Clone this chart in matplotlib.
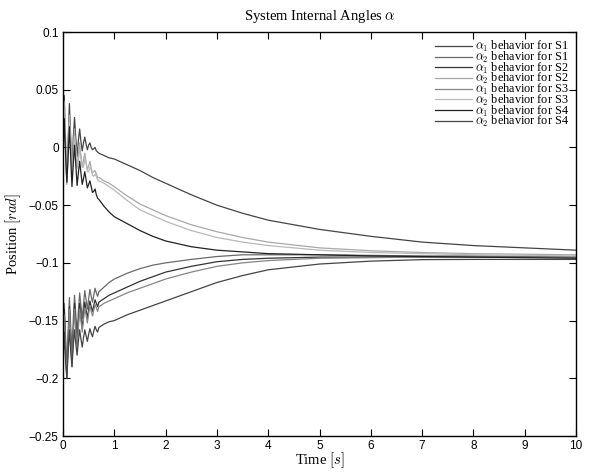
import numpy as np
import matplotlib as mpl
mpl.use('Agg')
import matplotlib.pyplot as plt

# time samples: dense at start (oscillation), sparse in the tail
t_head = [0.0, 0.025, 0.05, 0.075, 0.1, 0.125, 0.15, 0.175, 0.2, 0.225,
          0.25, 0.275, 0.3, 0.325, 0.35, 0.375, 0.4, 0.425, 0.45, 0.475,
          0.5, 0.525, 0.55, 0.575, 0.6, 0.625, 0.65, 0.675, 0.7]
t_tail = [0.8, 0.9, 1.0, 1.25, 1.5, 1.75, 2.0, 2.5, 3.0, 3.5, 4.0, 5.0, 6.0, 7.0, 8.0, 9.0, 10.0]
time = t_head + t_tail

# upper group
a_head = [0.0, 0.045, 0.0, -0.03, 0.005, 0.038, 0.008, -0.025, 0.008, 0.026,
          0.008, -0.008, 0.006, 0.016, 0.005, -0.003, 0.004, 0.009, 0.003, -0.002,
          0.002, 0.004, 0.0, -0.002, -0.001, 0.0, -0.003, -0.004, -0.005]
a_tail = [-0.007, -0.009, -0.010, -0.015, -0.020, -0.026, -0.031, -0.041, -0.050, -0.057,
          -0.063, -0.071, -0.077, -0.082, -0.085, -0.087, -0.089]

b_head = [0.0, 0.04, 0.0, -0.032, 0.0, 0.028, -0.001, -0.024, -0.002, 0.016,
          -0.004, -0.018, -0.006, 0.004, -0.009, -0.017, -0.011, -0.005, -0.013, -0.019,
          -0.016, -0.012, -0.018, -0.022, -0.021, -0.020, -0.023, -0.026, -0.026]
b_tail = [-0.029, -0.031, -0.034, -0.042, -0.049, -0.054, -0.059, -0.067, -0.073, -0.078,
          -0.082, -0.087, -0.0895, -0.091, -0.092, -0.0925, -0.093]

c_head = [-0.005, 0.032, 0.01, -0.025, -0.01, 0.022, 0.005, -0.02, -0.01, 0.010,
          0.0, -0.016, -0.012, -0.002, -0.006, -0.017, -0.017, -0.010, -0.013, -0.021,
          -0.021, -0.017, -0.019, -0.024, -0.025, -0.023, -0.025, -0.028, -0.029]
c_tail = [-0.031, -0.034, -0.037, -0.046, -0.054, -0.059, -0.064, -0.072, -0.078, -0.082,
          -0.085, -0.089, -0.091, -0.092, -0.093, -0.0935, -0.094]

d_head = [-0.01, 0.025, -0.005, -0.03, -0.008, 0.018, -0.008, -0.034, -0.015, 0.002,
          -0.015, -0.033, -0.022, -0.012, -0.022, -0.032, -0.027, -0.021, -0.028, -0.035,
          -0.032, -0.029, -0.034, -0.039, -0.038, -0.036, -0.041, -0.044, -0.045]
d_tail = [-0.051, -0.056, -0.060, -0.066, -0.072, -0.077, -0.081, -0.086, -0.089, -0.0905,
          -0.092, -0.093, -0.094, -0.0945, -0.095, -0.0955, -0.096]

# lower group
e_head = [-0.17, -0.135, -0.165, -0.195, -0.16, -0.13, -0.155, -0.18, -0.15, -0.128,
          -0.145, -0.162, -0.142, -0.126, -0.137, -0.148, -0.136, -0.124, -0.132, -0.14,
          -0.131, -0.123, -0.129, -0.134, -0.128, -0.122, -0.126, -0.129, -0.125]
e_tail = [-0.121, -0.117, -0.114, -0.109, -0.105, -0.102, -0.100, -0.097, -0.0945, -0.093,
          -0.093, -0.093, -0.0935, -0.094, -0.094, -0.0945, -0.095]

f_head = [-0.175, -0.14, -0.17, -0.2, -0.168, -0.138, -0.162, -0.188, -0.16, -0.135,
          -0.153, -0.17, -0.152, -0.135, -0.146, -0.157, -0.145, -0.134, -0.141, -0.148,
          -0.14, -0.133, -0.138, -0.142, -0.137, -0.132, -0.135, -0.138, -0.134]
f_tail = [-0.131, -0.128, -0.126, -0.121, -0.116, -0.112, -0.108, -0.103, -0.099, -0.097,
          -0.096, -0.095, -0.095, -0.095, -0.095, -0.095, -0.095]

g_head = [-0.18, -0.145, -0.175, -0.198, -0.17, -0.14, -0.165, -0.19, -0.163, -0.14,
          -0.157, -0.173, -0.156, -0.14, -0.15, -0.16, -0.149, -0.139, -0.145, -0.152,
          -0.144, -0.137, -0.142, -0.146, -0.141, -0.136, -0.139, -0.142, -0.138]
g_tail = [-0.135, -0.133, -0.131, -0.126, -0.122, -0.118, -0.114, -0.108, -0.103, -0.100,
          -0.098, -0.096, -0.0955, -0.095, -0.095, -0.095, -0.095]

h_head = [-0.19, -0.16, -0.185, -0.2, -0.178, -0.158, -0.176, -0.19, -0.172, -0.158,
          -0.17, -0.18, -0.168, -0.158, -0.166, -0.173, -0.165, -0.158, -0.163, -0.168,
          -0.162, -0.157, -0.161, -0.164, -0.159, -0.155, -0.158, -0.16, -0.156]
h_tail = [-0.153, -0.151, -0.150, -0.145, -0.141, -0.137, -0.133, -0.125, -0.117, -0.111,
          -0.106, -0.101, -0.0985, -0.0972, -0.097, -0.097, -0.097]

series = [a_head + a_tail, e_head + e_tail, f_head + f_tail, b_head + b_tail,
          g_head + g_tail, c_head + c_tail, d_head + d_tail, h_head + h_tail]
labels = [r'$\alpha_1$ behavior for S1', r'$\alpha_2$ behavior for S1',
          r'$\alpha_1$ behavior for S2', r'$\alpha_2$ behavior for S2',
          r'$\alpha_1$ behavior for S3', r'$\alpha_2$ behavior for S3',
          r'$\alpha_1$ behavior for S4', r'$\alpha_2$ behavior for S4']
colors = ['#444444', '#6a6a6a', '#333333', '#a8a8a8',
          '#858585', '#b8b8b8', '#222222', '#444444']

y_ticks = [-0.25, -0.2, -0.15, -0.1, -0.05, 0, 0.05, 0.1]
y_ticklabels = ['\u22120.25', '\u22120.2', '\u22120.15', '\u22120.1', '\u22120.05', '0', '0.05', '0.1']
x_ticks = list(range(0, 11))

plt.rcParams['mathtext.fontset'] = 'cm'
serif = 'Liberation Serif'

fig = plt.figure(figsize=(5.92, 4.73), dpi=100)
ax = fig.add_axes([0.1064, 0.0782, 0.8666, 0.8541])

for y, lab, col in zip(series, labels, colors):
    ax.plot(time, y, color=col, linewidth=0.9, label=lab)

ax.set_xlim(0, 10)
ax.set_ylim(-0.25, 0.1)
ax.set_xticks(x_ticks)
ax.set_yticks(y_ticks)
ax.set_yticklabels(y_ticklabels)
ax.tick_params(direction='in', length=5, width=0.8, top=True, right=True,
               labelsize=8.5, pad=3)
for lbl in ax.get_xticklabels() + ax.get_yticklabels():
    lbl.set_fontfamily('Liberation Sans')
for sp in ax.spines.values():
    sp.set_linewidth(1.0)

ax.set_title(r'System Internal Angles $\alpha$', fontsize=10.5, family=serif, pad=9)
ax.set_xlabel(r'Time $[s]$', fontsize=10.5, family=serif, labelpad=-1)
ax.set_ylabel(r'Position $[rad]$', fontsize=10.5, family=serif, labelpad=4)

leg = ax.legend(loc='upper right', frameon=False, fontsize=8.8, handlelength=3.0,
                labelspacing=-0.36, handletextpad=0.25, borderaxespad=0.2)
for txt in leg.get_texts():
    txt.set_fontfamily(serif)

fig.savefig('out.png', dpi=100)
